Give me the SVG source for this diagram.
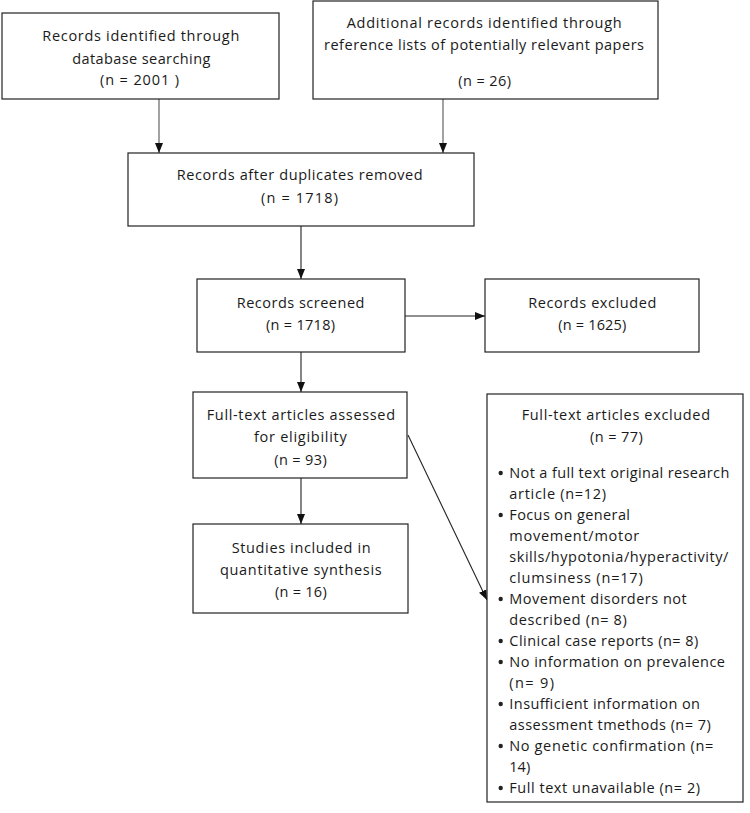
<svg xmlns="http://www.w3.org/2000/svg" width="750" height="813" viewBox="0 0 750 813">
<defs>
<style>
.box{fill:#fff;stroke:#222;stroke-width:1.2}
.t{font-family:"Open Sans","Liberation Sans",sans-serif;font-size:14.5px;fill:#1a1a1a}
.c{stroke:#222;stroke-width:1.1;fill:none}
.g{stroke:#555}
.dot{fill:#222}
</style>
<marker id="ah" markerUnits="userSpaceOnUse" markerWidth="10" markerHeight="10" viewBox="0 0 10 10" refX="10" refY="5" orient="auto">
<path d="M0,1 L10,5 L0,9 Z" fill="#111"/>
</marker>
</defs>
<rect width="750" height="813" fill="#fff"/>
<g id="connectors">
<line class="c g" x1="159" y1="99" x2="159" y2="153" marker-end="url(#ah)"/>
<line class="c g" x1="443" y1="99" x2="443" y2="153" marker-end="url(#ah)"/>
<line class="c" x1="301" y1="226" x2="301" y2="279" marker-end="url(#ah)"/>
<line class="c" x1="405" y1="316" x2="485" y2="316" marker-end="url(#ah)"/>
<line class="c" x1="301" y1="352" x2="301" y2="392" marker-end="url(#ah)"/>
<line class="c" x1="301" y1="478" x2="301" y2="524" marker-end="url(#ah)"/>
<line class="c" x1="408" y1="435" x2="487" y2="600" marker-end="url(#ah)"/>
</g>
<g id="n1">
<rect class="box" x="2" y="13" width="277" height="86"/>
<text class="t" x="42.3" y="41" textLength="197" lengthAdjust="spacing">Records identified through</text>
<text class="t" x="72.3" y="64" textLength="138" lengthAdjust="spacing">database searching</text>
<text class="t" x="100" y="85" textLength="79" lengthAdjust="spacing">(n =  2001  )</text>
</g>
<g id="n2">
<rect class="box" x="313" y="1" width="345" height="98"/>
<text class="t" x="346.7" y="28" textLength="275" lengthAdjust="spacing">Additional records identified through</text>
<text class="t" x="324" y="50" textLength="320" lengthAdjust="spacing">reference lists of potentially relevant papers</text>
<text class="t" x="458.3" y="86" textLength="52.7" lengthAdjust="spacing">(n = 26)</text>
</g>
<g id="n3">
<rect class="box" x="128" y="153" width="346" height="73"/>
<text class="t" x="176.7" y="180" textLength="246" lengthAdjust="spacing">Records after duplicates removed</text>
<text class="t" x="261" y="203" textLength="77" lengthAdjust="spacing">(n =   1718)</text>
</g>
<g id="n4">
<rect class="box" x="197" y="279" width="208" height="73"/>
<text class="t" x="236.7" y="308" textLength="127.7" lengthAdjust="spacing">Records screened</text>
<text class="t" x="266" y="330" textLength="69" lengthAdjust="spacing">(n = 1718)</text>
</g>
<g id="n5">
<rect class="box" x="485" y="279" width="214" height="73"/>
<text class="t" x="528.3" y="308" textLength="128" lengthAdjust="spacing">Records excluded</text>
<text class="t" x="558.3" y="330" textLength="68" lengthAdjust="spacing">(n = 1625)</text>
</g>
<g id="n6">
<rect class="box" x="193" y="392" width="214" height="86"/>
<text class="t" x="206.7" y="420" textLength="188.3" lengthAdjust="spacing">Full-text articles assessed</text>
<text class="t" x="254" y="442" textLength="92.7" lengthAdjust="spacing">for eligibility</text>
<text class="t" x="274.3" y="465" textLength="52.4" lengthAdjust="spacing">(n = 93)</text>
</g>
<g id="n7">
<rect class="box" x="193" y="524" width="215" height="89"/>
<text class="t" x="231.7" y="553" textLength="139" lengthAdjust="spacing">Studies included in</text>
<text class="t" x="220" y="575" textLength="161.7" lengthAdjust="spacing">quantitative synthesis</text>
<text class="t" x="275" y="597" textLength="51.7" lengthAdjust="spacing">(n = 16)</text>
</g>
<g id="n8">
<rect class="box" x="487" y="394" width="256" height="408"/>
<text class="t" x="521.7" y="420" textLength="188.3" lengthAdjust="spacing">Full-text articles excluded</text>
<text class="t" x="590" y="442" textLength="52.7" lengthAdjust="spacing">(n = 77)</text>
<circle class="dot" cx="500.7" cy="473" r="2.2"/>
<circle class="dot" cx="500.7" cy="515" r="2.2"/>
<circle class="dot" cx="500.7" cy="599" r="2.2"/>
<circle class="dot" cx="500.7" cy="641" r="2.2"/>
<circle class="dot" cx="500.7" cy="662" r="2.2"/>
<circle class="dot" cx="500.7" cy="704" r="2.2"/>
<circle class="dot" cx="500.7" cy="746" r="2.2"/>
<circle class="dot" cx="500.7" cy="788" r="2.2"/>
<text class="t" x="509.3" y="478" textLength="220" lengthAdjust="spacing">Not a full text original research</text>
<text class="t" x="509.3" y="499" textLength="96.7" lengthAdjust="spacing">article (n=12)</text>
<text class="t" x="509.3" y="520" textLength="120.7" lengthAdjust="spacing">Focus on general</text>
<text class="t" x="509.3" y="541" textLength="130" lengthAdjust="spacing">movement/motor</text>
<text class="t" x="509.3" y="562" textLength="219" lengthAdjust="spacing">skills/hypotonia/hyperactivity/</text>
<text class="t" x="509.3" y="583" textLength="133.4" lengthAdjust="spacing">clumsiness (n=17)</text>
<text class="t" x="509.3" y="604" textLength="177.4" lengthAdjust="spacing">Movement disorders not</text>
<text class="t" x="509.3" y="625" textLength="117.4" lengthAdjust="spacing">described (n= 8)</text>
<text class="t" x="509.3" y="646" textLength="189" lengthAdjust="spacing">Clinical case reports (n= 8)</text>
<text class="t" x="509.3" y="667" textLength="215.7" lengthAdjust="spacing">No information on prevalence</text>
<text class="t" x="509.3" y="688" textLength="44.7" lengthAdjust="spacing">(n= 9)</text>
<text class="t" x="509.3" y="709" textLength="190.7" lengthAdjust="spacing">Insufficient information on</text>
<text class="t" x="509.3" y="730" textLength="201.4" lengthAdjust="spacing">assessment tmethods (n= 7)</text>
<text class="t" x="509.3" y="751" textLength="204" lengthAdjust="spacing">No genetic confirmation (n=</text>
<text class="t" x="509.3" y="772">14)</text>
<text class="t" x="509.3" y="793" textLength="190.7" lengthAdjust="spacing">Full text unavailable (n= 2)</text>
</g>
</svg>
